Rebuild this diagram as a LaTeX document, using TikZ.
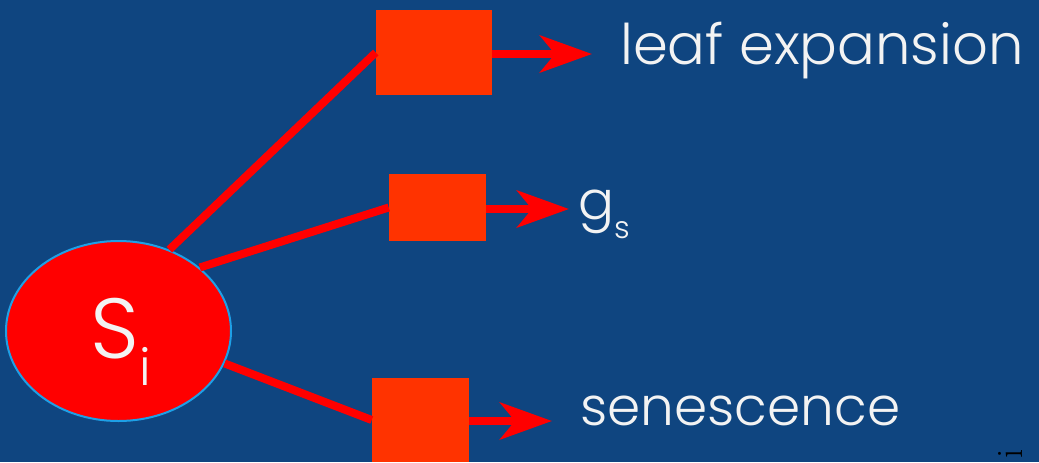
\documentclass[tikz,border=0pt]{standalone}
\usepackage{fontspec}
\usetikzlibrary{shapes.geometric,arrows.meta}
\IfFontExistsTF{Poppins Light}
  {\newfontfamily\labelfont{Poppins Light}}
  {\newfontfamily\labelfont{Poppins}}
\definecolor{bgblue}{RGB}{15,69,128}
\definecolor{boxred}{RGB}{255,51,0}
\definecolor{linered}{RGB}{255,0,0}
\definecolor{rimblue}{RGB}{30,160,230}
\definecolor{labelwhite}{RGB}{243,243,243}
\tikzset{
  flowbox/.style={rectangle, fill=boxred, draw=none, inner sep=0pt},
  stock/.style={ellipse, fill=linered, draw=rimblue, line width=1.5pt,
    minimum width=168.75pt, minimum height=135pt, inner sep=0pt},
  link/.style={draw=linered, line width=6pt},
  flowarrow/.style={draw=linered, line width=6pt,
    -{Stealth[length=39pt, width=27.75pt, inset=11.25pt]}},
  lbl/.style={text=labelwhite, inner sep=0pt, font=\labelfont\fontsize{40}{40}\selectfont},
}
\begin{document}
\begin{tikzpicture}[x=0.75pt, y=-0.75pt]
  \useasboundingbox (0,0) rectangle (1039,462);
  \fill[bgblue] (0,0) rectangle (1039,462);

  % state variable
  \node[stock] (S) at (118.5,331) {};
  \node[text=labelwhite, inner sep=0pt] (Si) at (121,341.5)
    {\labelfont\fontsize{64}{64}\selectfont S\raisebox{-20.25pt}{\fontsize{38}{38}\selectfont i}};

  % flow boxes
  \node[flowbox, minimum width=87pt, minimum height=63.75pt] (b1) at (434,52.5) {};
  \node[flowbox, minimum width=72.75pt, minimum height=50.25pt] (b2) at (437.5,207.5) {};
  \node[flowbox, minimum width=72.75pt, minimum height=63pt] (b3) at (420.5,420) {};

  % links from the state to the flows
  \draw[link] (S.58) -- (b1.west);
  \draw[link] (S.38) -- (b2.west);
  \draw[link] (S.-17) -- (b3.west);

  % arrow ends
  \coordinate (t1) at (592,54);
  \coordinate (t2) at (569,209);
  \coordinate (t3) at (552,421);
  \draw[flowarrow] (b1.east |- t1) -- (t1);
  \draw[flowarrow] (b2.east |- t2) -- (t2);
  \draw[flowarrow] (b3.east |- t3) -- (t3);

  % labels
  \node[lbl, anchor=base west, font=\labelfont\fontsize{42}{42}\selectfont] (l1) at (620,64) {leaf expansion};
  \node[lbl, anchor=base west] (l2) at (578,219)
    {g\raisebox{-14.25pt}{\fontsize{23}{23}\selectfont s}};
  \node[lbl, anchor=base west] (l3) at (580,425) {senescence};

  % corner mark
  \node[rotate=90, inner sep=0pt, font=\fontsize{28}{28}\selectfont] (mark) at (1010,454) {i};
\end{tikzpicture}
\end{document}
